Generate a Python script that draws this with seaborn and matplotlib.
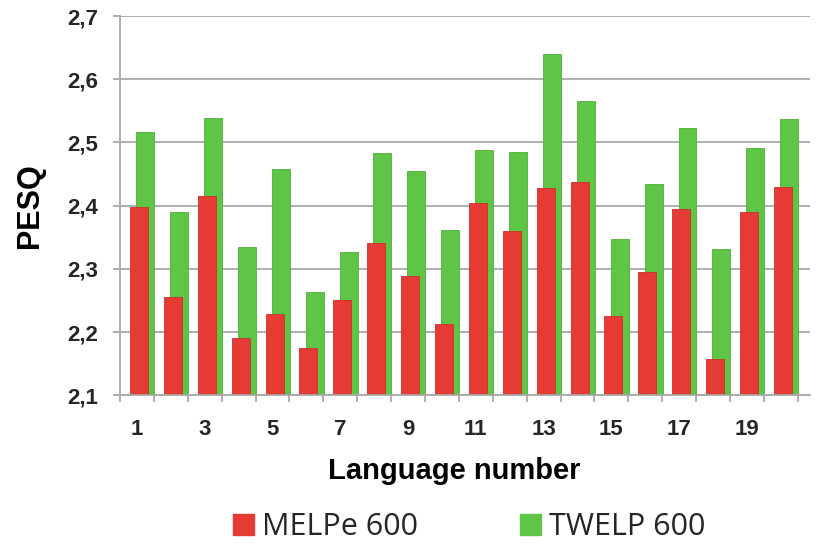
import numpy as np
import pandas as pd
import matplotlib
matplotlib.use("Agg")
import matplotlib.pyplot as plt
import seaborn as sns
from matplotlib.patches import Patch
from matplotlib.ticker import FixedLocator, FuncFormatter

languages = list(range(1, 21))
melpe_600 = [2.398, 2.255, 2.415, 2.190, 2.229, 2.175, 2.250, 2.341, 2.289, 2.213,
             2.404, 2.360, 2.428, 2.437, 2.226, 2.295, 2.394, 2.158, 2.390, 2.430]
twelp_600 = [2.517, 2.390, 2.538, 2.335, 2.458, 2.264, 2.327, 2.483, 2.455, 2.362,
             2.488, 2.485, 2.640, 2.565, 2.348, 2.435, 2.523, 2.331, 2.491, 2.537]
series_names = ["MELPe 600", "TWELP 600"]
y_ticks = [2.1, 2.2, 2.3, 2.4, 2.5, 2.6, 2.7]
x_tick_labels = [1, 3, 5, 7, 9, 11, 13, 15, 17, 19]

RED = "#E53B34"
GREEN = "#5FC547"
GRID = "#A8A8A8"

sns.set_theme(style="white")
plt.rcParams["font.family"] = ["Liberation Sans", "DejaVu Sans"]

fig = plt.figure(figsize=(8.16, 5.44), dpi=100)
ax = fig.add_axes([120 / 816, 1 - 395.3 / 544, 690 / 816, (395.3 - 16) / 544])

lang = np.array(languages, dtype=float)
df_green = pd.DataFrame({"pos": lang + 0.245, "val": twelp_600})
df_red = pd.DataFrame({"pos": lang + 0.06, "val": melpe_600})

sns.barplot(data=df_green, x="pos", y="val", native_scale=True, width=0.53,
            color=GREEN, saturation=1, errorbar=None, ax=ax, zorder=2,
            edgecolor="#4FAE3A", linewidth=0.6)
sns.barplot(data=df_red, x="pos", y="val", native_scale=True, width=0.53,
            color=RED, saturation=1, errorbar=None, ax=ax, zorder=3,
            edgecolor="#CC2F29", linewidth=0.6)

ax.set_xlim(0.5, 20.86)
ax.set_ylim(2.1, 2.7)

# y axis
ax.yaxis.set_major_locator(FixedLocator(y_ticks))
ax.yaxis.set_major_formatter(FuncFormatter(lambda v, p: f"{v:.1f}".replace(".", ",")))
ax.grid(axis="y", color=GRID, linewidth=1.3, zorder=0)
ax.set_axisbelow(True)
ax.tick_params(axis="y", which="major", left=True, length=5, width=1.3, color=GRID,
               pad=11, labelsize=16)
for lbl in ax.get_yticklabels():
    lbl.set_fontweight("bold")

# x axis
ax.xaxis.set_major_locator(FixedLocator(x_tick_labels))
ax.set_xticklabels([str(v) for v in x_tick_labels], fontsize=16, fontweight="bold")
ax.xaxis.set_minor_locator(FixedLocator(np.arange(0.5, 21, 1.0)))
ax.tick_params(axis="x", which="major", bottom=True, length=0, pad=17)
ax.tick_params(axis="x", which="minor", bottom=True, length=5, width=1.3, color=GRID)

for side in ["top", "right"]:
    ax.spines[side].set_visible(False)
for side in ["left", "bottom"]:
    ax.spines[side].set_color(GRID)
    ax.spines[side].set_linewidth(1.3)
    ax.spines[side].set_zorder(4)

ax.set_xlabel("Language number", fontsize=21, fontweight="bold", color="black")
ax.xaxis.set_label_coords(0.484, -0.163)
ax.set_ylabel("PESQ", fontsize=22, fontweight="bold", color="black")
ax.yaxis.set_label_coords(-0.109, 0.5)

handles = [Patch(facecolor=RED, edgecolor=RED), Patch(facecolor=GREEN, edgecolor=GREEN)]
fig.legend(handles, series_names, loc="center", bbox_to_anchor=(469 / 816, 1 - 527 / 544),
           ncol=2, frameon=False, prop={"family": "Open Sans", "size": 22},
           handlelength=0.7, handleheight=0.7, handletextpad=0.25, columnspacing=3.35,
           borderpad=0, borderaxespad=0)

fig.savefig("out.png", dpi=100)
